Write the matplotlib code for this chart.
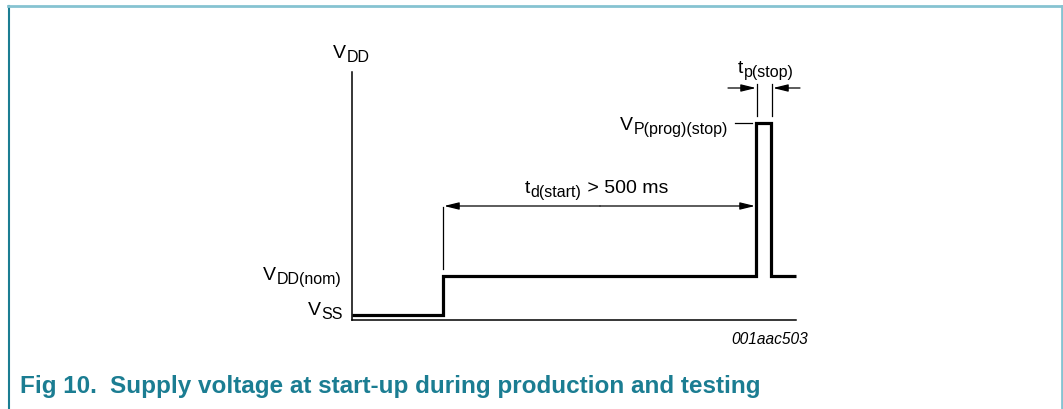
import matplotlib.pyplot as plt
from matplotlib.lines import Line2D

plt.rcParams['font.family'] = ['Liberation Sans', 'DejaVu Sans']

W, H = 1063, 410

# waveform (time units along the axis, level units up from V_SS)
t_wave = [0, 91, 91, 404, 404, 419, 419, 444]
v_wave = [5, 5, 44, 44, 197, 197, 44, 44]

v_nom = 44
v_prog = 197
t_start = 91
t_pulse = [404, 419]

teal = '#1b7d92'
light = '#86c3d1'
FS = 14
FS_SUB = 11.5


def label_left(ax, x, y, main, sub, tail=''):
    t1 = ax.text(x, y, main, fontsize=FS, ha='left', va='baseline', clip_on=False)
    t2 = ax.annotate(sub, xy=(1, y), xycoords=(t1, 'data'), xytext=(0.3, -3),
                     textcoords='offset points', fontsize=FS_SUB, ha='left',
                     va='baseline', annotation_clip=False)
    if tail:
        ax.annotate(tail, xy=(1, y), xycoords=(t2, 'data'), xytext=(0, 0),
                    textcoords='offset points', fontsize=FS, ha='left',
                    va='baseline', annotation_clip=False)


def label_right(ax, x, y, main, sub):
    t2 = ax.annotate(sub, xy=(x, y), xycoords='data', xytext=(0, -3),
                     textcoords='offset points', fontsize=FS_SUB, ha='right',
                     va='baseline', annotation_clip=False)
    ax.annotate(main, xy=(0, y), xycoords=(t2, 'data'), xytext=(-0.3, 0),
                textcoords='offset points', fontsize=FS, ha='right',
                va='baseline', annotation_clip=False)


fig = plt.figure(figsize=(W / 100, H / 100), dpi=100)

# background axes in pixel coords for the frame and caption
bg = fig.add_axes([0, 0, 1, 1])
bg.set_xlim(0, W)
bg.set_ylim(H, 0)
bg.axis('off')
bg.add_line(Line2D([8.5, 8.5], [7, H], color=teal, lw=1.5))
bg.add_line(Line2D([8, 1061.5], [7, 7], color=light, lw=2))
bg.add_line(Line2D([1061.5, 1061.5], [7, H], color=light, lw=2))
bg.text(20, 393, 'Fig 10.', color=teal, fontsize=17.5, fontweight='bold',
        va='baseline')
bg.text(110, 393, 'Supply voltage at start-up during production and testing',
        color=teal, fontsize=17.5, fontweight='bold', va='baseline')

# signal axes
x0, y0 = 352, 321
ax = fig.add_axes([x0 / W, (H - y0) / H, 444 / W, 248 / H])
ax.set_xlim(0, 444)
ax.set_ylim(0, 248)
ax.patch.set_alpha(0)
for s in ['top', 'right']:
    ax.spines[s].set_visible(False)
ax.spines['left'].set_linewidth(1.1)
ax.spines['bottom'].set_linewidth(1.1)
ax.set_xticks([])
ax.set_yticks([])

ax.plot(t_wave, v_wave, color='black', lw=2.3, solid_joinstyle='miter',
        solid_capstyle='butt', clip_on=False)

# marker lines
ax.plot([t_start, t_start], [51, 113], color='black', lw=0.9, clip_on=False)
for tp in t_pulse:
    ax.plot([tp + 1, tp + 1], [204, 236], color='black', lw=0.9, clip_on=False)
ax.plot([383, 400], [v_prog, v_prog], color='black', lw=0.9, clip_on=False)

arrow = dict(arrowstyle='-|>,head_length=0.9,head_width=0.22', color='black',
             lw=0.9, shrinkA=0, shrinkB=0)
ax.annotate('', xy=(t_start + 1, 114), xytext=(248, 114), arrowprops=arrow,
            annotation_clip=False)
ax.annotate('', xy=(t_pulse[0] - 1, 114), xytext=(248, 114), arrowprops=arrow,
            annotation_clip=False)
ax.annotate('', xy=(t_pulse[0], 232), xytext=(376, 232), arrowprops=arrow,
            annotation_clip=False)
ax.annotate('', xy=(t_pulse[1] + 2, 232), xytext=(448, 232), arrowprops=arrow,
            annotation_clip=False)

label_left(ax, -19, 263, 'V', 'DD')
label_right(ax, -11, 41, 'V', 'DD(nom)')
label_right(ax, -9, 6, 'V', 'SS')
label_right(ax, 376, 191, 'V', 'P(prog)(stop)')
label_left(ax, 386, 248, 't', 'p(stop)')
label_left(ax, 173, 128, 't', 'd(start)', ' > 500 ms')
ax.text(418, -19, '001aac503', fontsize=11.2, style='italic', ha='center',
        va='center')

fig.savefig('out.png', dpi=100)
